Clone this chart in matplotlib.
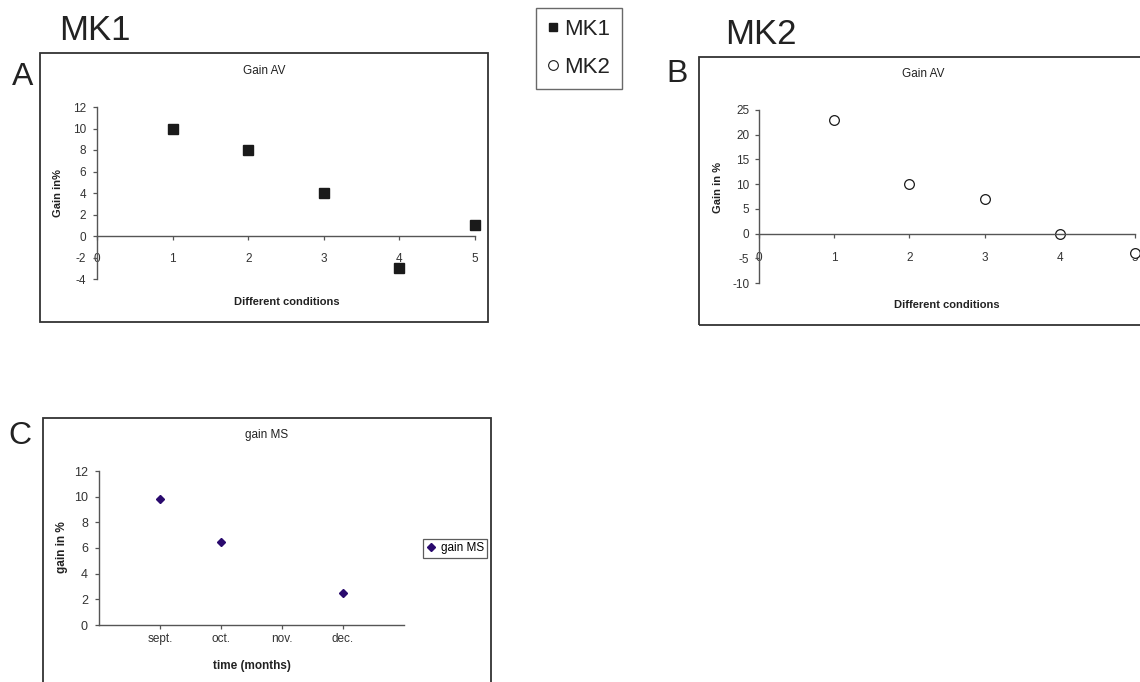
import matplotlib.pyplot as plt
from matplotlib.patches import Rectangle
from matplotlib.lines import Line2D

plt.rcParams['font.family'] = ['Liberation Sans', 'DejaVu Sans']
plt.rcParams['axes.unicode_minus'] = False

# data
conditions = [1, 2, 3, 4, 5]
gain_mk1 = [10, 8, 4, -3, 1]
gain_mk2 = [23, 10, 7, 0, -4]
months = ['sept.', 'oct.', 'nov.', 'dec.']
gain_ms = [9.85, 6.45, None, 2.5]

W, H = 1140, 682
fig = plt.figure(figsize=(W / 100, H / 100), dpi=100)

def px_rect(x0, y0, x1, y1):
    # pixel box (top-left origin) -> figure fraction [l, b, w, h]
    return [x0 / W, 1 - y1 / H, (x1 - x0) / W, (y1 - y0) / H]

def frame(x0, y0, x1, y1):
    l, b, w, h = px_rect(x0, y0, x1, y1)
    fig.patches.append(Rectangle((l, b), w, h, transform=fig.transFigure,
                                 fill=False, ec='#333333', lw=1.3))

txt = '#222222'
axc = '#555555'

def style(ax, tick_size):
    for s in ['top', 'right']:
        ax.spines[s].set_visible(False)
    for s in ['left', 'bottom']:
        ax.spines[s].set_color(axc)
        ax.spines[s].set_linewidth(1.0)
    ax.tick_params(colors=axc, labelcolor='#333333', labelsize=tick_size,
                   length=3, width=0.9)

# panel frames
frame(40, 53, 488, 322)
frame(699, 57, 1160, 325)
frame(43, 418, 491, 700)

# ---- panel A
axA = fig.add_axes(px_rect(97, 107, 475, 279))
axA.plot(conditions, gain_mk1, ls='none', marker='s', ms=7, color='#1a1a1a',
         clip_on=False)
axA.set_xlim(0, 5)
axA.set_ylim(-4, 12)
axA.set_xticks(range(0, 6))
axA.set_yticks(range(-4, 13, 2))
style(axA, 8.5)
axA.spines['bottom'].set_position(('data', 0))
axA.tick_params(axis='x', pad=9)
axA.tick_params(axis='y', pad=5)
axA.set_title('Gain AV', fontsize=8.5, color=txt, x=0.442, y=1.209, va='center', pad=0)
axA.set_xlabel('Different conditions', fontsize=8, fontweight='bold', color=txt, va='center')
axA.xaxis.set_label_coords(0.503, -0.134)
axA.set_ylabel('Gain in%', fontsize=8, fontweight='bold', color=txt, va='center')
axA.yaxis.set_label_coords(-0.103, 0.5)

# ---- panel B
axB = fig.add_axes(px_rect(759, 110, 1135, 283))
axB.plot(conditions, gain_mk2, ls='none', marker='o', ms=7, mfc='white',
         mec='#1a1a1a', mew=0.9, clip_on=False)
axB.set_xlim(0, 5)
axB.set_ylim(-10, 25)
axB.set_xticks(range(0, 6))
axB.set_yticks(range(-10, 26, 5))
style(axB, 8.5)
axB.spines['bottom'].set_position(('data', 0))
axB.tick_params(axis='x', pad=10)
axB.tick_params(axis='y', pad=4)
axB.set_title('Gain AV', fontsize=8.5, color=txt, x=0.436, y=1.208, va='center', pad=0)
axB.set_xlabel('Different conditions', fontsize=8, fontweight='bold', color=txt, va='center')
axB.xaxis.set_label_coords(0.5, -0.127)
axB.set_ylabel('Gain in %', fontsize=8, fontweight='bold', color=txt, va='center')
axB.yaxis.set_label_coords(-0.109, 0.55)

# ---- panel C
axC = fig.add_axes(px_rect(99, 471, 404, 625))
xs = [i + 1 for i, v in enumerate(gain_ms) if v is not None]
ys = [v for v in gain_ms if v is not None]
axC.plot(xs, ys, ls='none', marker='D', ms=4, color='#2a0a6e', label='gain MS')
axC.set_xlim(0, 5)
axC.set_ylim(0, 12)
axC.set_xticks(range(1, 5))
axC.set_xticklabels(months)
axC.set_yticks(range(0, 13, 2))
style(axC, 9)
axC.tick_params(axis='x', labelsize=8.5, pad=3)
axC.tick_params(axis='y', pad=5)
axC.set_title('gain MS', fontsize=8.5, color=txt, x=0.551, y=1.234, va='center', pad=0)
axC.set_xlabel('time (months)', fontsize=8.5, fontweight='bold', color=txt, va='center')
axC.xaxis.set_label_coords(0.502, -0.266)
axC.set_ylabel('gain in %', fontsize=8.5, fontweight='bold', color=txt, va='center')
axC.yaxis.set_label_coords(-0.121, 0.506)
legC = axC.legend(loc='center left', bbox_to_anchor=(1.062, 0.497), fontsize=8.5,
                  frameon=True, fancybox=False, handlelength=0.8, handletextpad=0.4,
                  borderpad=0.3, borderaxespad=0)
legC.get_frame().set_edgecolor('#333333')
legC.get_frame().set_linewidth(0.9)

# ---- MK1 / MK2 key
h1 = Line2D([], [], ls='none', marker='s', ms=5.5, color='#1a1a1a')
h2 = Line2D([], [], ls='none', marker='o', ms=7, mfc='white', mec='#1a1a1a', mew=0.8)
l, b, w, h = px_rect(534, 8, 623, 89)
key = fig.legend([h1, h2], ['MK1', 'MK2'], loc='center', bbox_to_anchor=(l + w / 2, b + h / 2),
                 fontsize=16, frameon=True, fancybox=False, handlelength=0.6,
                 handletextpad=0.2, labelspacing=0.75, borderpad=0.5)
key.get_frame().set_edgecolor('#444444')
key.get_frame().set_linewidth(1.0)
for t in key.get_texts():
    t.set_color(txt)

# ---- panel letters and headings
fig.text(95 / W, 1 - 30 / H, 'MK1', fontsize=25, color=txt, ha='center', va='center')
fig.text(761 / W, 1 - 35 / H, 'MK2', fontsize=25, color=txt, ha='center', va='center')
fig.text(23 / W, 1 - 77 / H, 'A', fontsize=23, color=txt, ha='center', va='center')
fig.text(677 / W, 1 - 74 / H, 'B', fontsize=23, color=txt, ha='center', va='center')
fig.text(20 / W, 1 - 436 / H, 'C', fontsize=23, color=txt, ha='center', va='center')

fig.savefig('out.png', dpi=100)
